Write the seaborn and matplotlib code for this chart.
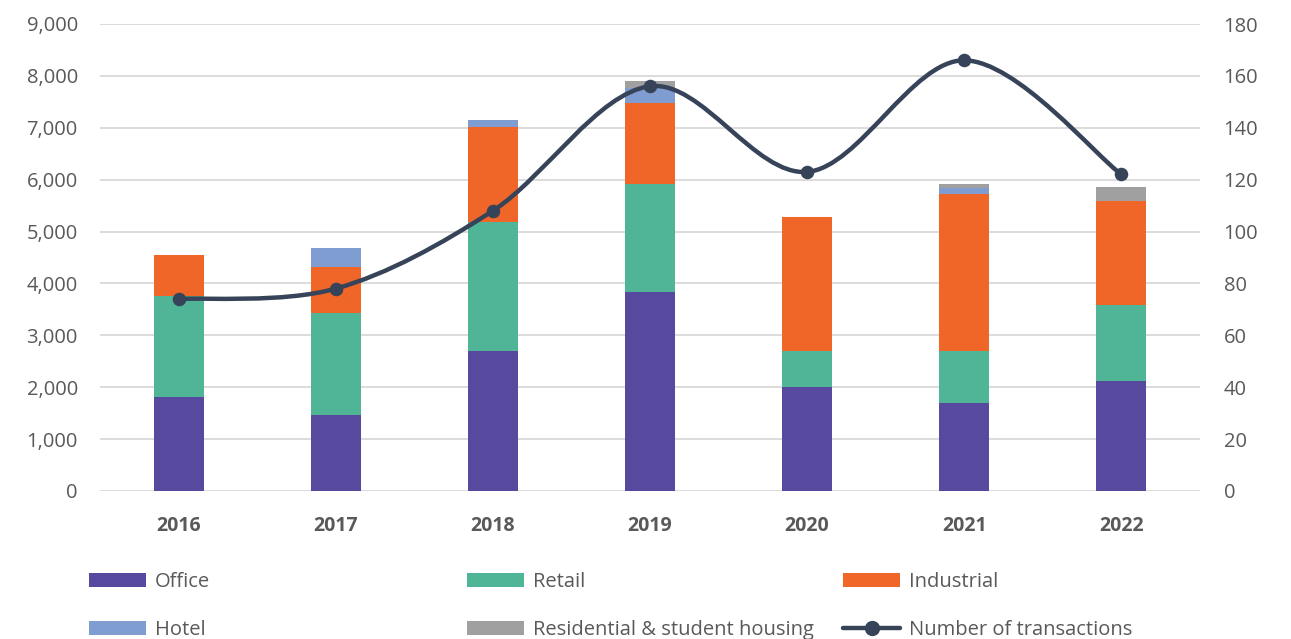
import numpy as np
import pandas as pd
import matplotlib
matplotlib.use("Agg")
import matplotlib.pyplot as plt
import seaborn as sns
from matplotlib.path import Path
from matplotlib.patches import PathPatch, Patch
from matplotlib.lines import Line2D
from matplotlib.ticker import FuncFormatter, MultipleLocator

# ---------------- data ----------------
years = ["2016", "2017", "2018", "2019", "2020", "2021", "2022"]
office = [1820, 1470, 2700, 3840, 2000, 1700, 2120]
retail = [1930, 1960, 2490, 2080, 690, 1000, 1460]
industrial = [790, 880, 1830, 1560, 2595, 3020, 2000]
hotel = [0, 370, 130, 290, 0, 115, 0]
residential = [0, 0, 0, 135, 0, 80, 270]
transactions = [74, 78, 108, 156, 123, 166, 122]

series_names = ["Office", "Retail", "Industrial", "Hotel", "Residential & student housing"]
series_values = [office, retail, industrial, hotel, residential]
colors = ["#56499E", "#4FB596", "#EF6628", "#7F9DD1", "#A0A0A0"]
line_color = "#374359"
text_color = "#595959"
grid_color = "#D9D9D9"

sns.set_theme(style="white")
plt.rcParams["font.family"] = ["Open Sans", "DejaVu Sans"]

W, H = 1291, 639
fig = plt.figure(figsize=(W / 100, H / 100), dpi=100)
ax = fig.add_axes([100 / W, (H - 491) / H, 1100 / W, 467 / H])

# stacked bars
bottom = np.zeros(len(years))
for name, vals, col in zip(series_names, series_values, colors):
    df = pd.DataFrame({"year": years, "value": vals})
    sns.barplot(data=df, x="year", y="value", bottom=bottom, color=col,
                width=0.318, errorbar=None, ax=ax, linewidth=0, saturation=1)
    bottom = bottom + np.array(vals)

ax.set_xlim(-0.5, 6.5)
ax.set_ylim(0, 9000)
ax.yaxis.set_major_locator(MultipleLocator(1000))
ax.yaxis.set_major_formatter(FuncFormatter(lambda v, p: f"{int(v):,}"))
ax.set_xlabel("")
ax.set_ylabel("")
ax.grid(axis="y", color=grid_color, linewidth=1.3)
ax.set_axisbelow(True)
for s in ax.spines.values():
    s.set_visible(False)
ax.tick_params(axis="y", length=0, pad=16, labelsize=14.5, labelcolor=text_color)
ax.tick_params(axis="x", length=0, pad=18, labelsize=14, labelcolor=text_color)
for lab in ax.get_xticklabels():
    lab.set_fontweight("bold")

# secondary axis: smooth line
ax2 = ax.twinx()
ax2.set_ylim(0, 180)
ax2.yaxis.set_major_locator(MultipleLocator(20))
for s in ax2.spines.values():
    s.set_visible(False)
ax2.tick_params(axis="y", length=0, pad=17, labelsize=14.5, labelcolor=text_color)
ax2.grid(False)

xs = np.arange(len(years), dtype=float)
ys = np.array(transactions, dtype=float)
pts = np.column_stack([xs, ys])
verts = [tuple(pts[0])]
codes = [Path.MOVETO]
n = len(pts)
for i in range(n - 1):
    p0 = pts[i - 1] if i > 0 else pts[i]
    p1 = pts[i]
    p2 = pts[i + 1]
    p3 = pts[i + 2] if i + 2 < n else pts[i + 1]
    c1 = p1 + (p2 - p0) / 6.0
    c2 = p2 - (p3 - p1) / 6.0
    verts += [tuple(c1), tuple(c2), tuple(p2)]
    codes += [Path.CURVE4, Path.CURVE4, Path.CURVE4]
ax2.add_patch(PathPatch(Path(verts, codes), facecolor="none", edgecolor=line_color,
                        linewidth=3.2, capstyle="round", joinstyle="round", zorder=3))
sns.scatterplot(x=xs, y=ys, ax=ax2, s=95, color=line_color, linewidth=0, zorder=4)
ax2.set_xlim(-0.5, 6.5)
ax2.set_ylabel("")

# legend (three columns placed individually)
handles = [Patch(facecolor=c, edgecolor="none") for c in colors]
line_handle = Line2D([], [], color=line_color, linewidth=3.2, marker="o", markersize=10)
columns = [
    ([handles[0], handles[3]], [series_names[0], series_names[3]], 89),
    ([handles[1], handles[4]], [series_names[1], series_names[4]], 467),
    ([handles[2], line_handle], [series_names[2], "Number of transactions"], 843),
]
for hs, labs, xpix in columns:
    fig.legend(hs, labs, loc="upper left", bbox_to_anchor=(xpix / W, 1 - 572 / H),
               frameon=False, borderpad=0, borderaxespad=0, handlelength=2.85,
               handleheight=0.72, handletextpad=0.42, labelspacing=1.4,
               fontsize=14.5, labelcolor=text_color)

fig.savefig("out.png", dpi=100)
